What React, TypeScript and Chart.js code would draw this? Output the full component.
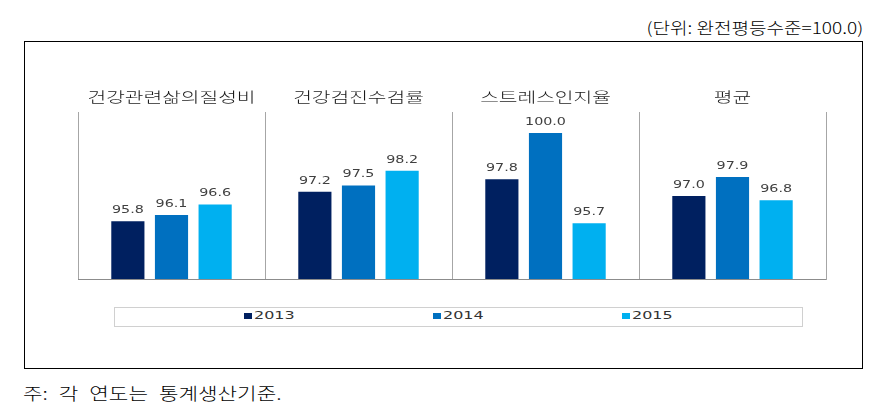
import React, { useEffect, useRef } from "react";
import { Chart, registerables } from "chart.js";

Chart.register(...registerables);

// ---- data ----
const CATEGORIES = ["건강관련삶의질성비", "건강검진수검률", "스트레스인지율", "평균"];
const SERIES = ["2013", "2014", "2015"];
const VALUES_2013 = [95.8, 97.2, 97.8, 97.0];
const VALUES_2014 = [96.1, 97.5, 100.0, 97.9];
const VALUES_2015 = [96.6, 98.2, 95.7, 96.8];
const COLORS = ["#002060", "#0070C0", "#00B0F0"];
const Y_MIN = 93;
const Y_MAX = 101;
const UNIT_TEXT = "(단위: 완전평등수준=100.0)";
const NOTE_TEXT = "주: 각 연도는 통계생산기준.";

const SERIES_VALUES = [VALUES_2013, VALUES_2014, VALUES_2015];

const decorPlugin = {
  id: "decor",
  afterDatasetsDraw(chart: any) {
    const { ctx, chartArea, scales } = chart;
    const xs = scales.x;
    const ys = scales.y;
    ctx.save();
    // baseline
    ctx.strokeStyle = "#8c8c8c";
    ctx.lineWidth = 1;
    const by = Math.round(ys.getPixelForValue(Y_MIN)) - 0.5;
    ctx.beginPath();
    ctx.moveTo(chartArea.left, by);
    ctx.lineTo(chartArea.right, by);
    ctx.stroke();
    // category titles
    ctx.fillStyle = "#1a1a1a";
    ctx.font = "300 14px 'Noto Sans CJK KR'";
    ctx.textAlign = "center";
    ctx.textBaseline = "middle";
    (chart.data.labels as string[]).forEach((lab, i) => {
      const px = xs.getPixelForValue(i);
      ctx.save();
      ctx.translate(px, chartArea.top - 15.5);
      ctx.scale(1.45, 1);
      ctx.fillText(lab, 0, 0);
      ctx.restore();
    });
    // value labels
    ctx.font = "11px 'DejaVu Sans'";
    ctx.fillStyle = "#404040";
    chart.data.datasets.forEach((ds: any, di: number) => {
      const meta = chart.getDatasetMeta(di);
      meta.data.forEach((bar: any, i: number) => {
        ctx.save();
        ctx.translate(bar.x, bar.y - 11);
        ctx.scale(1.3, 1);
        ctx.fillText(Number(ds.data[i]).toFixed(1), 0, 0);
        ctx.restore();
      });
    });
    ctx.restore();
  },
};

export default function App() {
  const canvasRef = useRef<HTMLCanvasElement | null>(null);

  useEffect(() => {
    const canvas = canvasRef.current;
    if (!canvas) return;
    const chart = new Chart(canvas, {
      type: "bar",
      data: {
        labels: CATEGORIES,
        datasets: SERIES.map((s, i) => ({
          label: s,
          data: SERIES_VALUES[i],
          backgroundColor: COLORS[i],
          borderWidth: 0,
          barPercentage: 0.76,
          categoryPercentage: 0.7,
        })),
      },
      options: {
        animation: false,
        responsive: false,
        maintainAspectRatio: false,
        devicePixelRatio: 1,
        layout: { padding: { left: 53, right: 35, top: 69, bottom: 13 } },
        plugins: {
          legend: { display: false },
          tooltip: { enabled: false },
        },
        scales: {
          x: {
            position: "top",
            ticks: { display: false },
            grid: {
              color: "#a6a6a6",
              lineWidth: 1,
              drawTicks: false,
              tickLength: 0,
              offset: true,
            },
            border: { display: false },
          },
          y: { display: false, min: Y_MIN, max: Y_MAX },
        },
      },
      plugins: [decorPlugin],
    } as any);
    return () => chart.destroy();
  }, []);

  return (
    <div
      style={{
        position: "absolute",
        left: 0,
        top: 0,
        width: 873,
        height: 409,
        background: "#ffffff",
        overflow: "hidden",
        fontFamily: "'Noto Sans CJK KR', sans-serif",
      }}
    >
      {/* unit text */}
      <div
        style={{
          position: "absolute",
          right: 10,
          top: 16,
          height: 22,
          lineHeight: "22px",
          fontSize: 16,
          fontWeight: 300,
          color: "#000",
          whiteSpace: "nowrap",
          transform: "scaleX(1.19)",
          transformOrigin: "right center",
        }}
      >
        {UNIT_TEXT}
      </div>
      {/* outer frame */}
      <div
        style={{
          position: "absolute",
          left: 24,
          top: 41,
          width: 839,
          height: 328,
          boxSizing: "border-box",
          border: "1px solid #000",
        }}
      />
      <canvas
        ref={canvasRef}
        width={836}
        height={250}
        style={{ position: "absolute", left: 25, top: 43, width: 836, height: 250 }}
      />
      {/* legend */}
      <div
        style={{
          position: "absolute",
          left: 114,
          top: 307,
          width: 689,
          height: 20,
          boxSizing: "border-box",
          border: "1px solid #d0d0d0",
          display: "flex",
          justifyContent: "center",
          alignItems: "center",
        }}
      >
        {SERIES.map((s, i) => (
          <div
            key={s}
            style={{
              width: 189,
              display: "flex",
              justifyContent: "center",
              alignItems: "center",
              height: 18,
            }}
          >
            <span
              style={{
                display: "inline-block",
                width: 8,
                height: 6,
                background: COLORS[i],
                marginRight: 2,
                marginTop: -2,
              }}
            />
            <span
              style={{
                display: "inline-block",
                width: 41,
                fontFamily: "'DejaVu Sans', sans-serif",
                fontSize: 11,
                color: "#333",
                lineHeight: "18px",
                marginTop: -2,
              }}
            >
              <span
                style={{
                  display: "inline-block",
                  transform: "scaleX(1.45)",
                  transformOrigin: "left center",
                }}
              >
                {s}
              </span>
            </span>
          </div>
        ))}
      </div>
      {/* footnote */}
      <div
        style={{
          position: "absolute",
          left: 23,
          top: 381,
          height: 24,
          lineHeight: "24px",
          fontSize: 17,
          fontWeight: 300,
          color: "#000",
          whiteSpace: "nowrap",
          wordSpacing: 5,
          transform: "scaleX(1.25)",
          transformOrigin: "left center",
        }}
      >
        {NOTE_TEXT}
      </div>
    </div>
  );
}
